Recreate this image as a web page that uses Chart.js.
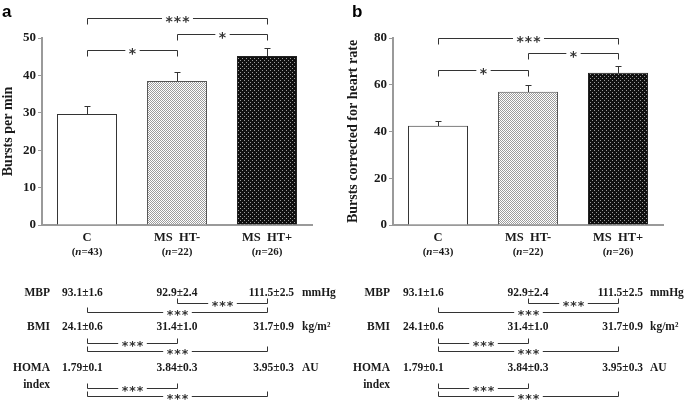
<!DOCTYPE html>
<html>
<head>
<meta charset="utf-8">
<script src="https://cdn.jsdelivr.net/npm/chart.js@4.4.1/dist/chart.umd.min.js"></script>
<style>
  html, body { margin: 0; padding: 0; background: #fff; }
  #wrap { position: relative; width: 685px; height: 401px; }
  #chartA { position: absolute; left: 0; top: 0; }
  #chartB { position: absolute; left: 340px; top: 0; }
</style>
</head>
<body>
<div id="wrap">
  <canvas id="chartA" width="340" height="401"></canvas>
  <canvas id="chartB" width="345" height="401"></canvas>
</div>
<script>
const categories = ['C', 'MS  HT-', 'MS  HT+'];
const groupN = [43, 22, 26];

const burstsPerMin = [29.7, 38.5, 45.2];
const burstsPerMinSem = [2.2, 2.4, 2.1];
const burstsPerHr = [42.5, 57.0, 65.1];
const burstsPerHrSem = [2.1, 2.9, 2.9];

const ticksA = [0, 10, 20, 30, 40, 50];
const ticksB = [0, 20, 40, 60, 80];

// [from, to, label, bracket level in axis units]
const sigA = [[0, 2, '***', 55.3], [1, 2, '*', 51.1], [0, 1, '*', 46.8]];
const sigB = [[0, 2, '***', 80], [1, 2, '*', 73.6], [0, 1, '*', 66.4]];

const tableLabels = [['MBP'], ['BMI'], ['HOMA', 'index']];
const tableUnits = ['mmHg', 'kg/m²', 'AU'];
const mbpValues = ['93.1±1.6', '92.9±2.4', '111.5±2.5'];
const bmiValues = ['24.1±0.6', '31.4±1.0', '31.7±0.9'];
const homaValues = ['1.79±0.1', '3.84±0.3', '3.95±0.3'];
const mbpSig = [[1, 2], [0, 2]];
const bmiSig = [[0, 1], [0, 2]];
const homaSig = [[0, 1], [0, 2]];

const SERIF = '"Liberation Serif", "Times New Roman", serif';
const INK = '#1a1a1a';
const AXIS = '#9a9a9a';
const TABLE_FONT = 'bold 11.5px ' + SERIF;

function makePattern(ctx, bg, dot, size, dots) {
  const c = document.createElement('canvas');
  c.width = size; c.height = size;
  const g = c.getContext('2d');
  g.fillStyle = bg;
  g.fillRect(0, 0, size, size);
  g.fillStyle = dot;
  dots.forEach(d => g.fillRect(d[0], d[1], 1, 1));
  return ctx.createPattern(c, 'repeat');
}

function bracket(ctx, x1, x2, yLine, leg, label, font, starDy) {
  ctx.font = font;
  ctx.letterSpacing = '1px';
  const w = ctx.measureText(label).width;
  const mid = (x1 + x2) / 2;
  const gap = 3;
  ctx.beginPath();
  ctx.moveTo(x1, yLine + leg);
  ctx.lineTo(x1, yLine);
  ctx.lineTo(mid - w / 2 - gap, yLine);
  ctx.moveTo(mid + w / 2 + gap, yLine);
  ctx.lineTo(x2, yLine);
  ctx.lineTo(x2, yLine + leg);
  ctx.stroke();
  ctx.textAlign = 'center';
  ctx.textBaseline = 'alphabetic';
  ctx.fillText(label, mid + 0.5, yLine + starDy);
  ctx.letterSpacing = '0px';
}

const figurePlugin = {
  id: 'figure',
  afterDraw(chart, args, opts) {
    const ctx = chart.ctx;
    const xs = chart.scales.x;
    const ys = chart.scales.y;
    const meta = chart.getDatasetMeta(0);
    const cx = i => Math.round(xs.getPixelForValue(i)) + 0.5;
    ctx.save();

    // error bars (upper only)
    ctx.strokeStyle = '#333';
    ctx.lineWidth = 1;
    opts.means.forEach((m, i) => {
      const bx = Math.round(meta.data[i].x) + 0.5;
      const top = Math.round(ys.getPixelForValue(m));
      const end = Math.round(ys.getPixelForValue(m + opts.sem[i])) + 0.5;
      ctx.beginPath();
      ctx.moveTo(bx, top);
      ctx.lineTo(bx, end);
      ctx.moveTo(bx - 3, end);
      ctx.lineTo(bx + 3, end);
      ctx.stroke();
    });

    // significance brackets above bars
    ctx.fillStyle = '#333';
    opts.sig.forEach(s => {
      const yl = Math.round(ys.getPixelForValue(s[3])) + 0.5;
      bracket(ctx, cx(s[0]), cx(s[1]), yl, 6, s[2], 'bold 14px "DejaVu Sans"', 7);
    });

    // panel letter
    ctx.fillStyle = '#000';
    ctx.font = 'bold 17px "Liberation Sans", Arial, sans-serif';
    ctx.textAlign = 'left';
    ctx.textBaseline = 'alphabetic';
    ctx.fillText(opts.letter, opts.letterX, 17);

    // category labels
    ctx.fillStyle = INK;
    categories.forEach((c, i) => {
      const x = xs.getPixelForValue(i);
      ctx.font = 'bold 12.5px ' + SERIF;
      ctx.textAlign = 'center';
      ctx.textBaseline = 'middle';
      ctx.fillText(c, x, 238);
      // (n=..) with italic n
      const f1 = 'bold 11px ' + SERIF;
      const f2 = 'italic bold 11px ' + SERIF;
      const p1 = '(', p2 = 'n', p3 = '=' + groupN[i] + ')';
      ctx.font = f1; const w1 = ctx.measureText(p1).width; const w3 = ctx.measureText(p3).width;
      ctx.font = f2; const w2 = ctx.measureText(p2).width;
      let sx = x - (w1 + w2 + w3) / 2;
      ctx.textAlign = 'left';
      ctx.font = f1; ctx.fillText(p1, sx, 252); sx += w1;
      ctx.font = f2; ctx.fillText(p2, sx, 252); sx += w2;
      ctx.font = f1; ctx.fillText(p3, sx, 252);
    });

    // table below
    const t = opts.table;
    const rows = [mbpValues, bmiValues, homaValues];
    const rowSig = [mbpSig, bmiSig, homaSig];
    const rowY = [293, 327, 368];
    const sigY = [[303, 312], [343, 351], [388, 396]];
    rows.forEach((vals, r) => {
      ctx.fillStyle = INK;
      ctx.font = TABLE_FONT;
      ctx.textBaseline = 'middle';
      ctx.textAlign = 'right';
      tableLabels[r].forEach((lab, k) => ctx.fillText(lab, t.labelRight, rowY[r] + k * 17));
      ctx.textAlign = 'left';
      ctx.fillText(vals[0], t.col0Left, rowY[r]);
      ctx.textAlign = 'center';
      ctx.fillText(vals[1], xs.getPixelForValue(1), rowY[r]);
      ctx.textAlign = 'right';
      ctx.fillText(vals[2], t.col2Right, rowY[r]);
      ctx.textAlign = 'left';
      ctx.fillText(tableUnits[r], t.unitLeft, rowY[r]);
      ctx.fillStyle = '#333';
      rowSig[r].forEach((s, k) => {
        bracket(ctx, cx(s[0]), cx(s[1]), sigY[r][k] + 0.5, -5, '***', 'bold 12.5px "DejaVu Sans"', 6.5);
      });
    });

    ctx.restore();
  }
};

function makeChart(id, cfg) {
  const canvas = document.getElementById(id);
  const ctx = canvas.getContext('2d');
  const lightDots = makePattern(ctx, '#ffffff', '#9c9c9c', 2, [[0, 0], [1, 1]]);
  const darkDots = makePattern(ctx, '#101010', '#9a9a9a', 4, [[0, 0], [2, 2]]);
  return new Chart(ctx, {
    type: 'bar',
    data: {
      labels: categories,
      datasets: [{
        data: cfg.means,
        backgroundColor: ['#ffffff', lightDots, darkDots],
        borderColor: ['#333333', '#555555', '#222222'],
        borderWidth: 1,
        categoryPercentage: 1,
        barPercentage: 0.667
      }]
    },
    options: {
      responsive: false,
      animation: false,
      events: [],
      layout: { padding: { left: 0, right: cfg.padRight, top: 38, bottom: 176 } },
      plugins: {
        legend: { display: false },
        tooltip: { enabled: false },
        figure: {
          means: cfg.means, sem: cfg.sem, sig: cfg.sig,
          letter: cfg.letter, letterX: cfg.letterX, table: cfg.table
        }
      },
      scales: {
        x: {
          grid: { display: false },
          border: { color: AXIS, width: 2 },
          ticks: { display: false },
          afterFit(s) { s.height = 0; }
        },
        y: {
          min: 0,
          max: cfg.ticks[cfg.ticks.length - 1],
          afterBuildTicks(s) { s.ticks = cfg.ticks.map(v => ({ value: v })); },
          afterFit(s) { s.width = cfg.axisLeft; },
          grid: { drawOnChartArea: false, drawTicks: true, tickLength: 4, color: AXIS, lineWidth: 1 },
          border: { color: AXIS, width: 2 },
          ticks: { font: { family: SERIF, size: 13, weight: 'bold' }, color: INK, padding: 2 },
          title: {
            display: true, text: cfg.title, color: INK,
            font: { family: SERIF, size: 14, weight: 'bold' },
            padding: { top: cfg.titlePad, bottom: 0 }
          }
        }
      }
    },
    plugins: [figurePlugin]
  });
}

makeChart('chartA', {
  means: burstsPerMin, sem: burstsPerMinSem, sig: sigA, ticks: ticksA,
  title: 'Bursts per min', titlePad: 0, axisLeft: 42, padRight: 28,
  letter: 'a', letterX: 2,
  table: { labelRight: 50, col0Left: 62, col2Right: 294, unitLeft: 302 }
});

makeChart('chartB', {
  means: burstsPerHr, sem: burstsPerHrSem, sig: sigB, ticks: ticksB,
  title: 'Bursts corrected for heart rate', titlePad: 5, axisLeft: 53, padRight: 22,
  letter: 'b', letterX: 12,
  table: { labelRight: 50, col0Left: 63, col2Right: 303, unitLeft: 310 }
});
</script>
</body>
</html>
